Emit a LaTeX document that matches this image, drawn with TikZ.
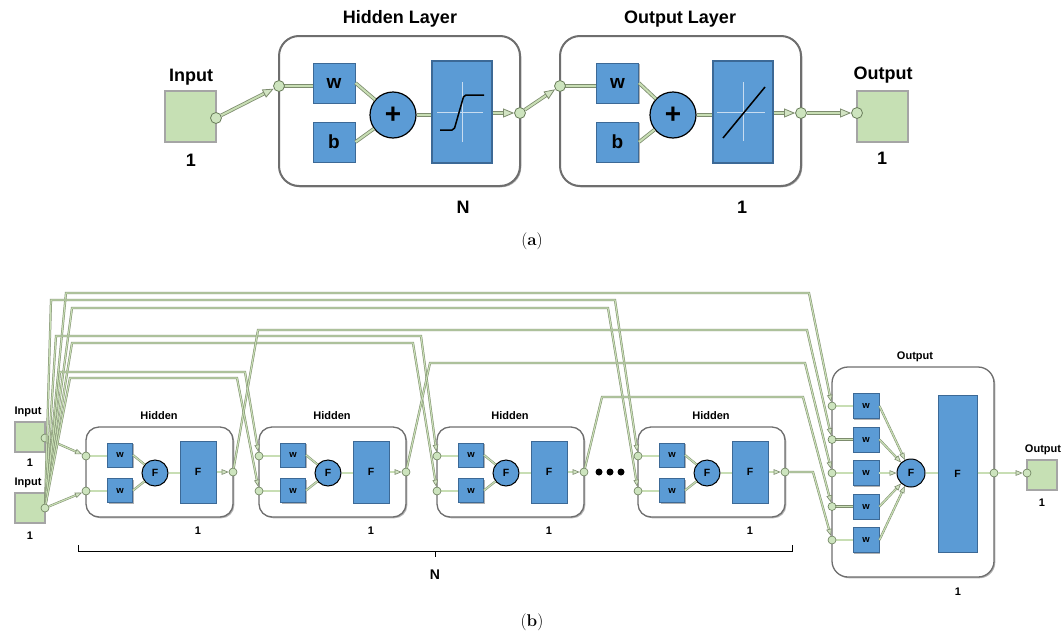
\documentclass[tikz,border=0pt]{standalone}
\usepackage{fontspec}
\newfontfamily\af{Liberation Sans}
\usetikzlibrary{arrows.meta,shadows}
\definecolor{bluefill}{RGB}{91,155,213}
\definecolor{blueedge}{RGB}{60,105,150}
\definecolor{greenbox}{RGB}{198,224,180}
\definecolor{greenedge}{RGB}{165,165,165}
\definecolor{circfill}{RGB}{205,228,190}
\definecolor{circedge}{RGB}{105,125,90}
\definecolor{linefill}{RGB}{200,222,180}
\definecolor{lineedge}{RGB}{125,140,110}
\definecolor{arrowfill}{RGB}{210,228,195}
\definecolor{layeredge}{RGB}{110,110,110}
\definecolor{axiscol}{RGB}{200,220,240}
\tikzset{
 shad/.style={drop shadow={shadow xshift=1.3pt, shadow yshift=-1.3pt, opacity=0.3, fill=black}},
 layerA/.style={draw=layeredge, line width=2pt, fill=white, rounded corners=20pt, minimum width=241pt, minimum height=150pt, inner sep=0pt, shad},
 layerB/.style={draw=layeredge, line width=1.3pt, fill=white, rounded corners=13pt, inner sep=0pt, shad},
 ttA/.style={font=\af\bfseries\fontsize{18}{20}\selectfont, inner sep=0pt},
 ttB/.style={font=\af\bfseries\fontsize{11}{13}\selectfont, inner sep=0pt},
 capt/.style={font=\fontsize{17}{19}\selectfont, inner sep=0pt},
 blueA/.style={draw=blueedge, fill=bluefill, line width=1pt, inner sep=0pt, minimum width=42pt, minimum height=40pt, font=\af\bfseries\fontsize{19}{20}\selectfont, shad},
 blueB/.style={draw=blueedge, fill=bluefill, line width=0.8pt, inner sep=0pt, minimum width=25pt, minimum height=24pt, font=\af\bfseries\fontsize{9.5}{10}\selectfont, shad},
 bigA/.style={draw=blueedge, fill=bluefill, line width=1.2pt, inner sep=0pt, minimum width=60pt, minimum height=102pt, shad},
 bigB/.style={draw=blueedge, fill=bluefill, line width=1pt, inner sep=0pt, font=\af\bfseries\fontsize{10.5}{11}\selectfont, shad},
 plusA/.style={circle, draw=black, fill=bluefill, line width=1.2pt, inner sep=0pt, minimum size=46pt, font=\af\bfseries\fontsize{28}{28}\selectfont},
 plusB/.style={circle, draw=black, fill=bluefill, line width=1pt, inner sep=0pt, minimum size=26pt, font=\af\bfseries\fontsize{10.5}{11}\selectfont},
 inboxA/.style={draw=greenedge, fill=greenbox, line width=2pt, minimum size=51pt, inner sep=0pt, shad},
 inboxB/.style={draw=greenedge, fill=greenbox, line width=1.4pt, minimum size=30pt, inner sep=0pt},
 dotA/.style={circle, draw=circedge, fill=circfill, line width=0.8pt, minimum size=11pt, inner sep=0pt},
 dotB/.style={circle, draw=circedge, fill=circfill, line width=0.6pt, minimum size=8pt, inner sep=0pt},
 conA/.style={draw=linefill, line width=2pt, preaction={draw=lineedge, line width=3.6pt}},
 arrA/.style={draw=linefill, line width=2pt, -{Triangle[length=11pt,width=9pt,fill=arrowfill,color=lineedge,line width=0.8pt]}, preaction={draw=lineedge, line width=3.6pt, arrows=-, shorten >=5pt}},
 conB/.style={draw=linefill, line width=1.2pt, preaction={draw=lineedge, line width=2.2pt}},
 arrB/.style={draw=linefill, line width=1.2pt, -{Triangle[length=7pt,width=5.5pt,fill=arrowfill,color=lineedge,line width=0.6pt]}, preaction={draw=lineedge, line width=2.2pt, arrows=-, shorten >=3pt}},
 ellip/.style={circle, fill=black, minimum size=7pt, inner sep=0pt},
}
\newcommand\hidlayer[2]{%
 \node[layerB, minimum width=147pt, minimum height=90pt] (#1box) at ({#2+73.5},472) {};
 \node[ttB] (#1title) at ({#2+73},416) {Hidden};
 \node[ttB] (#1one) at ({#2+112},531) {1};
 \node[blueB] (#1w1) at ({#2+34},455) {w};
 \node[blueB] (#1w2) at ({#2+34},490.5) {w};
 \node[plusB] (#1F) at ({#2+69},473) {F};
 \node[bigB, minimum width=36pt, minimum height=62pt] (#1T) at ({#2+112},472) {F};
 \draw[conB] (#2,456) -- (#2,456 -| #1w1.west);
 \draw[conB] (#2,491) -- (#2,491 -| #1w2.west);
 \draw[conB] (#1w1.east) -- (#1F);
 \draw[conB] (#1w2.east) -- (#1F);
 \draw[conB] (#1F) -- (#1F -| #1T.west);
 \node[dotB] (#1in1) at (#2,456) {};
 \node[dotB] (#1in2) at (#2,491) {};
 \node[dotB] (#1out) at ({#2+147},472) {};
 \draw[arrB] (#1T.east |- #1out) -- (#1out);
}
\begin{document}
\begin{tikzpicture}[x=1pt,y=-1pt]
\useasboundingbox (0,0) rectangle (1064,637);
% ---------------- (a) ----------------
\node[layerA] (hbox) at (399.5,111) {};
\node[layerA] (obox) at (680.5,111) {};
\node[ttA] (htitle) at (400,19) {Hidden Layer};
\node[ttA] (otitle) at (680,19) {Output Layer};
\node[ttA] (hN) at (463,207) {N};
\node[ttA] (oN) at (742,207) {1};
% input
\node[inboxA] (inA) at (190.5,116) {};
\node[ttA] (inAlbl) at (191,77) {Input};
\node[ttA] (inAone) at (191,160) {1};
% hidden layer internals
\node[blueA] (hw) at (334,83) {w};
\node[blueA] (hb) at (334,142) {b};
\node[plusA] (hplus) at (393,115) {+};
\node[bigA] (hT) at (462,112) {};
\draw[axiscol, line width=0.6pt] (462,82) -- (462,142);
\draw[axiscol, line width=0.6pt] (437,112) -- (483,112);
\draw[line width=1.5pt, rounded corners=2pt] (440,130) -- (454,130) -- (464,95) -- (484,95);
% output layer internals
\node[blueA] (ow) at (617.5,83) {w};
\node[blueA] (ob) at (617.5,142) {b};
\node[plusA] (oplus) at (673,115) {+};
\node[bigA] (oT) at (743,112) {};
\draw[axiscol, line width=0.6pt] (743,82) -- (743,141);
\draw[axiscol, line width=0.6pt] (717,112) -- (765,112);
\draw[line width=1.5pt] (723,138) -- (765,87);
% output
\node[inboxA] (outA) at (882.5,116) {};
\node[ttA] (outAlbl) at (883,75) {Output};
\node[ttA] (outAone) at (882,158) {1};
% connectors (a)
\draw[conA] (279,86) -- (279,86 -| hw.west);
\draw[conA] (hw.east) -- (hplus);
\draw[conA] (hb.east) -- (hplus);
\draw[conA] (hplus.east) -- (hplus.east -| hT.west);
\draw[conA] (560,86) -- (560,86 -| ow.west);
\draw[conA] (ow.east) -- (oplus);
\draw[conA] (ob.east) -- (oplus);
\draw[conA] (oplus.east) -- (oplus.east -| oT.west);
\node[dotA] (inAc) at (216,118) {};
\node[dotA] (hin) at (279,86) {};
\node[dotA] (hout) at (520,113) {};
\node[dotA] (oin) at (560,86) {};
\node[dotA] (oout) at (801,113) {};
\node[dotA] (outAc) at (857,113) {};
\draw[arrA] (hT.east |- hout) -- (hout);
\draw[arrA] (oT.east |- oout) -- (oout);
\draw[arrA] (inAc) -- (hin);
\draw[arrA] (hout) -- (oin);
\draw[arrA] (oout) -- (outAc);
\node[capt] (capa) at (532,241) {(\textbf{a})};
% ---------------- (b) ----------------
\hidlayer{ha}{86}
\hidlayer{hb}{259}
\hidlayer{hc}{437}
\hidlayer{hd}{638}
\node[ellip] (e1) at (599,472) {};
\node[ellip] (e2) at (610,472) {};
\node[ellip] (e3) at (621,472) {};
% output layer (b)
\node[layerB, minimum width=162pt, minimum height=210pt, rounded corners=16pt] (obx) at (913,472) {};
\node[ttB] (obtitle) at (915,357) {Output};
\node[ttB] (obone) at (958,592) {1};
\node[plusB, minimum size=28pt] (oF) at (911,473) {F};
\node[bigB, minimum width=39pt, minimum height=157pt] (oTB) at (957.5,473.5) {F};
\foreach \k/\yy in {1/406,2/439.5,3/473,4/506.5,5/540}{
  \node[blueB, minimum width=26pt, minimum height=25pt] (obw\k) at (866,\yy) {w};
  \draw[conB] (832,\yy) -- (832,\yy -| obw\k.west);
  \node[dotB] (oi\k) at (832,\yy) {};
  \draw[arrB] (obw\k.east) -- (oF);
}
\draw[conB] (oF) -- (oF -| oTB.west);
\draw[conB] (oTB.east |- oF) -- (994,473);
\node[dotB] (oo) at (994,473) {};
% output box (b)
\node[inboxB] (outB) at (1042,475) {};
\node[ttB] (outBlbl) at (1043,450) {Output};
\node[ttB] (outBone) at (1042,503) {1};
\node[dotB] (outBc) at (1027,473) {};
\draw[arrB] (oo) -- (outBc);
% inputs (b)
\node[inboxB] (inB1) at (30,437) {};
\node[ttB] (inB1lbl) at (28,412) {Input};
\node[ttB] (inB1one) at (30,463) {1};
\node[inboxB] (inB2) at (30,508) {};
\node[ttB] (inB2lbl) at (28,483) {Input};
\node[ttB] (inB2one) at (30,536) {1};
\node[dotB] (inB1c) at (45,438) {};
\node[dotB] (inB2c) at (45,508) {};
\draw[arrB] (inB1c) -- (hain1);
\draw[arrB] (inB2c) -- (hain2);
% long connectors
\draw[arrB] (inB2c) -- (66,293) -- (809,293) -- (oi1);
\draw[arrB] (inB2c) -- (51,300) -- (615,300) -- (hdin1);
\draw[arrB] (inB2c) -- (72,308) -- (608,308) -- (hdin2);
\draw[arrB] (inB2c) -- (56,336) -- (421,336) -- (hcin1);
\draw[arrB] (inB2c) -- (72,343) -- (413,343) -- (hcin2);
\draw[arrB] (inB2c) -- (60,372) -- (245,372) -- (hbin1);
\draw[arrB] (inB2c) -- (70,378) -- (237,378) -- (hbin2);
\draw[arrB] (haout) -- (258,330) -- (807,330) -- (oi2);
\draw[arrB] (hbout) -- (430,363) -- (805,363) -- (oi3);
\draw[arrB] (hcout) -- (602,397) -- (803,397) -- (oi4);
\draw[arrB] (hdout) -- (813,472) -- (oi5);
% brace
\draw[line width=0.9pt] (78,545) -- (78,551) -- (792,551) -- (792,545);
\draw[line width=0.9pt] (435,551) -- (435,557);
\node[ttA, font=\af\bfseries\fontsize{14}{16}\selectfont] (bN) at (435,575) {N};
\node[capt] (capb) at (532,622) {(\textbf{b})};
\end{tikzpicture}
\end{document}
